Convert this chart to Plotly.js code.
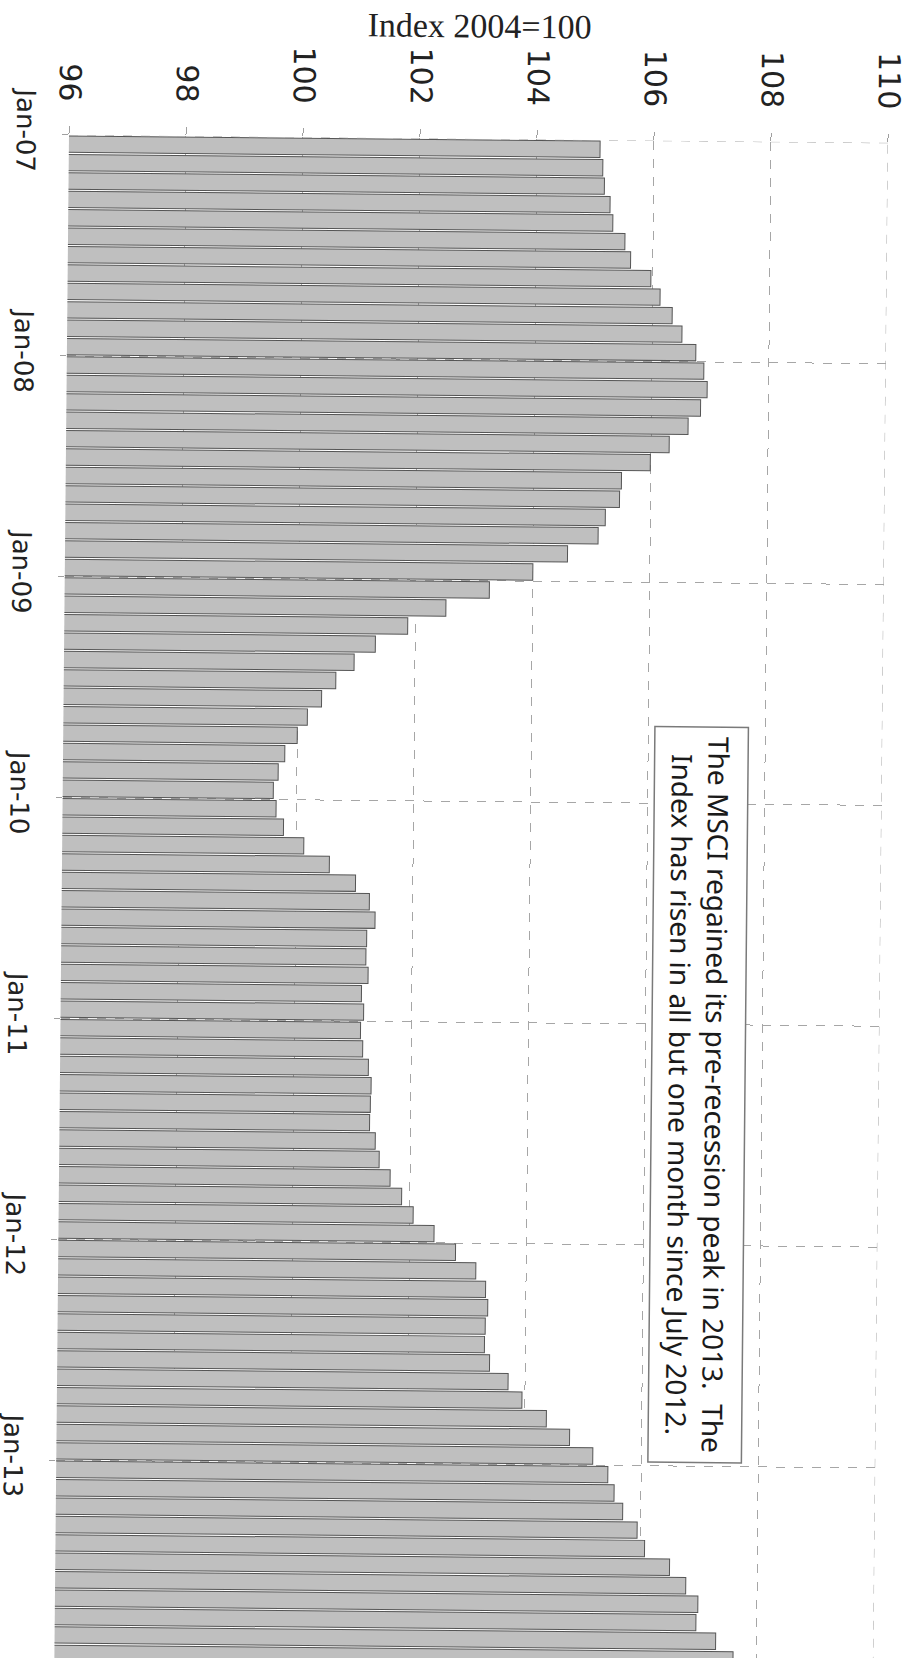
<!DOCTYPE html>
<html>
<head>
<meta charset="utf-8">
<script src="https://cdn.plot.ly/plotly-3.0.1.min.js"></script>
<style>
html,body{margin:0;padding:0;background:#fff;overflow:hidden;width:913px;height:1658px;}
/* the reference is a slightly skewed scan: mimic its small clockwise tilt */
#chart{transform:rotate(0.55deg);transform-origin:69px 135px;}
</style>
</head>
<body>
<div id="chart"></div>
<script>
// Monthly MSCI index values from Jan-2007 (Index 2004=100)
const msciIndex = [
  105.08, 105.13, 105.16, 105.26, 105.31, 105.52, 105.62, 105.97, 106.13, 106.34, 106.51, 106.75,
  106.89, 106.95, 106.84, 106.63, 106.31, 105.99, 105.50, 105.47, 105.23, 105.11, 104.59, 104.00,
  103.26, 102.52, 101.87, 101.32, 100.96, 100.65, 100.41, 100.17, 100.00, 99.79, 99.68, 99.60,
  99.65, 99.78, 100.13, 100.57, 101.02, 101.26, 101.36, 101.22, 101.21, 101.25, 101.14, 101.18,
  101.13, 101.17, 101.27, 101.32, 101.31, 101.30, 101.40, 101.47, 101.66, 101.86, 102.06, 102.42,
  102.79, 103.14, 103.31, 103.35, 103.31, 103.30, 103.39, 103.71, 103.95, 104.37, 104.77, 105.17,
  105.43, 105.54, 105.69, 105.94, 106.07, 106.50, 106.78, 106.99, 106.96, 107.30, 107.60
];
const monthIndex = msciIndex.map((_, i) => i);
const yearLabels = ['Jan-07', 'Jan-08', 'Jan-09', 'Jan-10', 'Jan-11', 'Jan-12', 'Jan-13'];
const valueTicks = [96, 98, 100, 102, 104, 106, 108, 110];
const axisTitle = 'Index 2004=100';
const noteLines = [
  'The MSCI regained its pre-recession peak in 2013.  The',
  'Index has risen in all but one month since July 2012.'
];

const trace = {
  type: 'bar',
  orientation: 'h',
  x: msciIndex,
  y: monthIndex,
  marker: { color: '#bfbfbf', line: { color: '#555555', width: 1 } },
  hoverinfo: 'skip'
};

const gridColor = '#a6a6a6';
const gridStyle = { gridcolor: gridColor, griddash: 'dash', gridwidth: 1 };

const layout = {
  width: 913,
  height: 1658,
  margin: { l: 69, r: 25, t: 135, b: 0, pad: 0 },
  paper_bgcolor: 'rgba(0,0,0,0)',
  plot_bgcolor: '#ffffff',
  showlegend: false,
  bargap: 0.11,
  title: {
    text: axisTitle,
    font: { family: 'Liberation Serif, DejaVu Serif, serif', size: 34, color: '#222' },
    x: 0.5, xref: 'paper', xanchor: 'center',
    y: 0.987, yref: 'container', yanchor: 'middle'
  },
  xaxis: Object.assign({
    side: 'top',
    range: [96, 110],
    tickmode: 'array',
    tickvals: valueTicks,
    ticktext: valueTicks.map(String),
    tickangle: 90,
    tickfont: { family: 'DejaVu Sans, sans-serif', size: 30, color: '#222' },
    ticks: 'outside',
    ticklen: 8,
    tickcolor: '#a0a0a0',
    ticklabelstandoff: 14,
    showgrid: true,
    zeroline: false,
    showline: false
  }, gridStyle),
  yaxis: Object.assign({
    range: [82.25, -0.5],
    tickmode: 'array',
    tickvals: yearLabels.map((_, k) => k * 12 - 0.5),
    ticktext: yearLabels,
    tickangle: 90,
    tickfont: { family: 'DejaVu Sans, sans-serif', size: 26, color: '#222' },
    ticks: 'outside',
    ticklen: 6,
    tickcolor: '#a0a0a0',
    ticklabelstandoff: 14,
    showgrid: true,
    zeroline: false,
    showline: false
  }, gridStyle),
  shapes: [
    // frame lines at the edges of the plot area (right value edge and top date edge)
    { type: 'line', xref: 'x', yref: 'paper', x0: valueTicks[valueTicks.length - 1], x1: valueTicks[valueTicks.length - 1], y0: 0, y1: 1,
      line: { color: gridColor, width: 1, dash: 'dash' }, layer: 'above' },
    { type: 'line', xref: 'paper', yref: 'y', x0: 0, x1: 1, y0: -0.5, y1: -0.5,
      line: { color: gridColor, width: 1, dash: 'dash' }, layer: 'above' }
  ],
  annotations: [{
    text: noteLines.join('<br>'),
    textangle: 90,
    xref: 'paper', yref: 'paper',
    x: 0.78, y: 0.3736,
    xanchor: 'center', yanchor: 'middle',
    showarrow: false,
    align: 'center',
    font: { family: 'Noto Sans, Open Sans, sans-serif', size: 28, color: '#1a1a1a' },
    bgcolor: '#ffffff',
    bordercolor: '#7a7a7a',
    borderwidth: 1.5,
    borderpad: 9
  }]
};

Plotly.newPlot('chart', [trace], layout, { displayModeBar: false, staticPlot: true });
</script>
</body>
</html>
